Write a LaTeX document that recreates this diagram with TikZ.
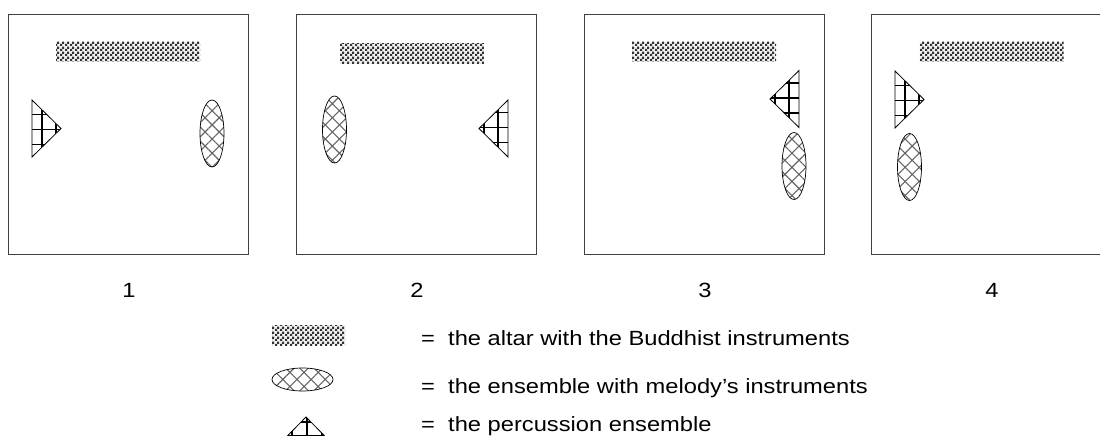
\documentclass[tikz,border=0pt]{standalone}
\usepackage{fontspec}
\setmainfont{Liberation Sans}
\newfontfamily\lblfam{Liberation Sans}[FakeStretch=1.15]
\newcommand\lblfont{\lblfam\fontsize{20.6}{24}\selectfont}
\usepackage{tikz}
\usetikzlibrary{shapes.geometric,patterns,patterns.meta}

% small checker used for the altar
\pgfdeclarepatternformonly{altarchk}{\pgfpointorigin}{\pgfqpoint{5pt}{5pt}}{\pgfqpoint{5pt}{5pt}}{
  \pgfpathrectangle{\pgfpointorigin}{\pgfqpoint{2.5pt}{2.5pt}}
  \pgfpathrectangle{\pgfqpoint{2.5pt}{2.5pt}}{\pgfqpoint{2.5pt}{2.5pt}}
  \pgfusepath{fill}}

\tikzset{
  panel/.style ={draw=black!75,line width=0.9pt},
  altar/.style ={rectangle,inner sep=0pt,minimum width=144pt,minimum height=20pt,
                 fill=black!6,postaction={pattern=altarchk,pattern color=black!80}},
  melody/.style={ellipse,draw=black,line width=0.7pt,inner sep=0pt,
                 minimum width=24pt,minimum height=67pt,
                 pattern={Hatch[angle=45,distance=10pt,line width=1.1pt]},pattern color=black!60},
  grid/.style  ={draw=black,line width=1.5pt},
  % percussion triangle, base at the origin, apex along +x
  perc/.pic    ={
    \begin{scope}
      \clip (0,28.5) -- (29,0) -- (0,-28.5) -- cycle;
      \foreach \gx in {10,24} \draw[grid] (\gx,-30) -- (\gx,30);
      \foreach \gy in {14,-1,-16} \draw[grid] (0,\gy) -- (30,\gy);
    \end{scope}
    \draw[black,line width=0.8pt,line join=miter] (0,28.5) -- (29,0) -- (0,-28.5) -- cycle;},
  num/.style   ={font=\lblfont,anchor=base,inner sep=0pt},
  key/.style   ={font=\lblfont,anchor=base west,inner sep=0pt},
}

\begin{document}
\begin{tikzpicture}[x=1pt,y=1pt]
\useasboundingbox (0,0) rectangle (1100,-436);
\clip (0,0) rectangle (1100,-436);

% the four plans and their numbers
\foreach \x/\n in {8/1,296/2,584/3,871/4}{
  \draw[panel] (\x,-14) rectangle ++(240,-240);
  \node[num] (n\n) at (\x+121,-297) {\n};
}

% plan 1
\node[altar] (a1) at (128,-52) {};
\pic (t1) at (32,-128.5) {perc};
\node[melody] (e1) at (212,-133.5) {};
% plan 2
\node[altar] (a2) at (412,-53.5) {};
\node[melody] (e2) at (334.5,-129.5) {};
\pic[rotate=180] (t2) at (508,-128.5) {perc};
% plan 3
\node[altar] (a3) at (704,-52) {};
\pic[rotate=180] (t3) at (799,-99) {perc};
\node[melody] (e3) at (794,-166) {};
% plan 4
\node[altar] (a4) at (991.5,-52) {};
\pic (t4) at (895,-99.5) {perc};
\node[melody] (e4) at (909.5,-167) {};

% key
\node[altar,minimum width=73pt] (ka) at (308.5,-335) {};
\node[melody,minimum width=61pt,minimum height=23pt] (ke) at (302.5,-379.5) {};
\pic[rotate=90] (kt) at (306,-446) {perc};
\node[key] (k1) at (421,-345) {=\ \ the altar with the Buddhist instruments};
\node[key] (k2) at (421,-393) {=\ \ the ensemble with melody’s instruments};
\node[key] (k3) at (421,-431) {=\ \ the percussion ensemble};
\end{tikzpicture}
\end{document}
